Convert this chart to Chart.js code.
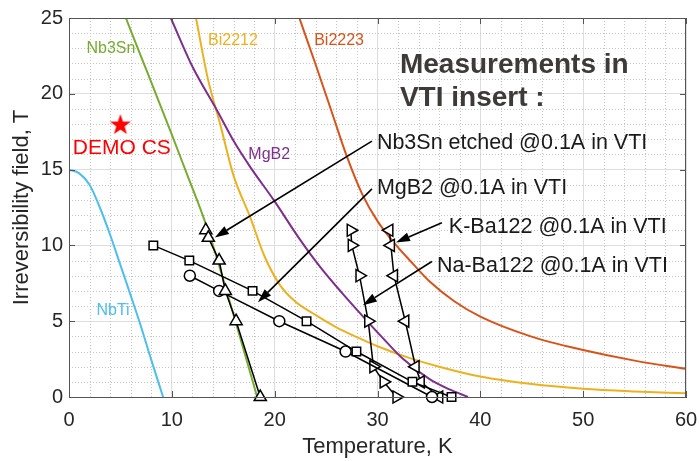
<!DOCTYPE html>
<html>
<head>
<meta charset="utf-8">
<script src="https://cdn.jsdelivr.net/npm/chart.js@4.4.1/dist/chart.umd.min.js"></script>
<style>
    body { margin: 0; background: #fff; }
    #wrap { width: 700px; height: 461px; position: relative; }
</style>
</head>
<body>
<div id="wrap"><canvas id="irrChart"></canvas></div>
<script>
// Irreversibility field curves (temperature K, field T)
const nbtiT = [0, 1, 2, 3, 4, 5, 6, 7, 8, 9.15];
const nbtiB = [15, 14.75, 14.0, 12.5, 10.7, 8.7, 6.7, 4.65, 2.45, 0];

const nb3snT = [5.53, 7.0, 8.5, 10.0, 11.5, 13.0, 14.0, 15.0, 16.1, 17.2, 18.3];
const nb3snB = [25, 22.47, 19.9, 17.3, 14.65, 12.0, 10.0, 7.75, 5.2, 2.6, 0];

const mgb2T = [9.9, 12.0, 14.4, 16.0, 17.6, 19.9, 22.5, 24.4, 26.5, 28.6, 30.5, 32.5, 35.1, 37.0, 38.8];
const mgb2B = [25, 21.8, 18.9, 16.9, 15.2, 13.0, 10.35, 8.6, 6.9, 5.3, 3.9, 2.5, 1.16, 0.5, 0];

const bi2212T = [12.35, 13.5, 14.7, 16.0, 17.6, 19.0, 20.5, 22.0, 24.0, 26.0, 28.0, 30.0, 33.0, 36.0, 40, 45, 50, 55, 60];
const bi2212B = [25, 21.0, 18.0, 14.6, 11.9, 9.3, 7.4, 6.3, 5.4, 4.6, 3.95, 3.35, 2.6, 2.0, 1.35, 0.85, 0.55, 0.37, 0.24];

const bi2223T = [22.4, 24.0, 25.6, 27.0, 28.5, 30.0, 31.7, 33.5, 35.1, 37.5, 40, 44.9, 50, 55, 60];
const bi2223B = [25, 21.9, 18.7, 15.9, 13.4, 11.6, 10.1, 8.75, 7.6, 6.3, 5.3, 4.0, 3.1, 2.4, 1.86];

// VTI measurements
const etchT = [13.3, 13.55, 14.6, 15.2, 16.25, 18.6];
const etchB = [11, 10.5, 9, 7, 5, 0];

const mgSqT = [8.2, 11.7, 17.85, 23.1, 27.95, 33.4, 37.2];
const mgSqB = [10, 9, 7, 5, 3, 1, 0];

const mgCiT = [11.75, 14.6, 20.45, 26.9, 35.3];
const mgCiB = [8, 7, 5, 3, 0];

const naT = [27.4, 27.5, 28.25, 29.1, 29.6, 30.6, 31.85];
const naB = [11, 10, 8, 5, 2, 1, 0];

const kT = [31.15, 31.3, 31.6, 32.7, 33.7, 34.2, 36.0];
const kB = [11, 10, 8, 5, 2, 1, 0];

const demoT = [5];
const demoB = [18];

const FONT = "'Liberation Sans', Arial, sans-serif";

function pts(xs, ys) {
    return xs.map((x, i) => ({ x: x, y: ys[i] }));
}

// filled 5 point star for DEMO CS
function makeStar(size, color) {
    const c = document.createElement("canvas");
    c.width = size;
    c.height = size;
    const g = c.getContext("2d");
    const cx = size / 2, cy = size / 2 + 1, ro = size / 2, ri = size / 5;
    g.beginPath();
    for (let i = 0; i < 10; i++) {
        const r = i % 2 === 0 ? ro : ri;
        const a = -Math.PI / 2 + i * Math.PI / 5;
        g.lineTo(cx + r * Math.cos(a), cy + r * Math.sin(a));
    }
    g.closePath();
    g.fillStyle = color;
    g.fill();
    return c;
}

function curve(data, color) {
    return {
        data: data,
        showLine: true,
        borderColor: color,
        borderWidth: 2,
        pointRadius: 0,
        cubicInterpolationMode: "monotone",
        order: 2
    };
}

function markers(data, style, radius, rotation) {
    return {
        data: data,
        showLine: true,
        borderColor: "#000",
        borderWidth: 1.5,
        pointStyle: style,
        pointRadius: radius,
        pointRotation: rotation || 0,
        pointBackgroundColor: "#fff",
        pointBorderColor: "#000",
        pointBorderWidth: 1.5,
        clip: false,
        order: 1
    };
}

// labels next to curves and the annotation block
const curveLabels = [
    { text: "Nb3Sn", x: 1.70, y: 22.68, color: "#77AC30" },
    { text: "Bi2212", x: 13.52, y: 23.23, color: "#EDB120" },
    { text: "Bi2223", x: 23.84, y: 23.23, color: "#D95319" },
    { text: "MgB2", x: 17.44, y: 15.68, color: "#7E2F8E" },
    { text: "NbTi", x: 2.67, y: 5.4, color: "#4DBEEE" }
];

const notes = [
    { text: "Nb3Sn etched @0.1A in VTI", x: 29.94, y: 16.36 },
    { text: "MgB2 @0.1A in VTI", x: 29.94, y: 13.41 },
    { text: "K-Ba122 @0.1A in VTI", x: 36.94, y: 10.85 },
    { text: "Na-Ba122 @0.1A in VTI", x: 35.78, y: 8.22 }
];

const arrows = [
    { x0: 29.46, y0: 16.88, x1: 14.18, y1: 10.52 },
    { x0: 29.46, y0: 13.73, x1: 18.37, y1: 6.25 },
    { x0: 36.26, y0: 11.50, x1: 31.79, y1: 10.19 },
    { x0: 35.29, y0: 8.94, x1: 28.58, y1: 6.06 }
];

// minor dotted grid, box, inward ticks
const decorPlugin = {
    id: "decor",
    beforeDatasetsDraw(chart) {
        const ctx = chart.ctx, a = chart.chartArea;
        const xs = chart.scales.x, ys = chart.scales.y;
        ctx.save();
        ctx.strokeStyle = "#c4c4c4";
        ctx.lineWidth = 1;
        ctx.setLineDash([1, 2]);
        for (let v = 2; v < 60; v += 2) {
            if (v % 10 === 0) continue;
            const px = Math.round(xs.getPixelForValue(v)) + 0.5;
            ctx.beginPath();
            ctx.moveTo(px, a.top);
            ctx.lineTo(px, a.bottom);
            ctx.stroke();
        }
        for (let v = 1; v < 25; v++) {
            if (v % 5 === 0) continue;
            const py = Math.round(ys.getPixelForValue(v)) + 0.5;
            ctx.beginPath();
            ctx.moveTo(a.left, py);
            ctx.lineTo(a.right, py);
            ctx.stroke();
        }
        ctx.restore();
    },
    afterDatasetsDraw(chart) {
        const ctx = chart.ctx, a = chart.chartArea;
        const xs = chart.scales.x, ys = chart.scales.y;
        ctx.save();

        // box and inward ticks
        ctx.strokeStyle = "#555";
        ctx.lineWidth = 1;
        ctx.strokeRect(a.left + 0.5, a.top + 0.5, a.right - a.left - 1, a.bottom - a.top);
        ctx.beginPath();
        xs.ticks.forEach(t => {
            const px = Math.round(xs.getPixelForValue(t.value)) + 0.5;
            ctx.moveTo(px, a.bottom); ctx.lineTo(px, a.bottom - 6);
            ctx.moveTo(px, a.top); ctx.lineTo(px, a.top + 6);
        });
        ys.ticks.forEach(t => {
            const py = Math.round(ys.getPixelForValue(t.value)) + 0.5;
            ctx.moveTo(a.left, py); ctx.lineTo(a.left + 6, py);
            ctx.moveTo(a.right, py); ctx.lineTo(a.right - 6, py);
        });
        ctx.stroke();

        // curve labels
        ctx.textBaseline = "alphabetic";
        ctx.textAlign = "left";
        ctx.font = "16px " + FONT;
        curveLabels.forEach(l => {
            ctx.fillStyle = l.color;
            ctx.fillText(l.text, xs.getPixelForValue(l.x), ys.getPixelForValue(l.y));
        });

        ctx.fillStyle = "#ff0000";
        ctx.font = "21px " + FONT;
        ctx.fillText("DEMO CS", xs.getPixelForValue(0.37), ys.getPixelForValue(16.03));

        // annotation block
        ctx.fillStyle = "#3d3a39";
        ctx.font = "bold 28px " + FONT;
        ctx.fillText("Measurements in", xs.getPixelForValue(32.18), ys.getPixelForValue(21.35));
        ctx.fillText("VTI insert :", xs.getPixelForValue(32.18), ys.getPixelForValue(19.18));

        ctx.fillStyle = "#1a1a1a";
        ctx.font = "21.5px " + FONT;
        notes.forEach(n => {
            ctx.fillText(n.text, xs.getPixelForValue(n.x), ys.getPixelForValue(n.y));
        });

        // arrows
        ctx.strokeStyle = "#000";
        ctx.fillStyle = "#000";
        ctx.lineWidth = 1.6;
        arrows.forEach(ar => {
            const x0 = xs.getPixelForValue(ar.x0), y0 = ys.getPixelForValue(ar.y0);
            const x1 = xs.getPixelForValue(ar.x1), y1 = ys.getPixelForValue(ar.y1);
            const ang = Math.atan2(y1 - y0, x1 - x0);
            const len = 14, half = 4.5;
            const bx = x1 - len * Math.cos(ang), by = y1 - len * Math.sin(ang);
            ctx.beginPath();
            ctx.moveTo(x0, y0);
            ctx.lineTo(bx, by);
            ctx.stroke();
            ctx.beginPath();
            ctx.moveTo(x1, y1);
            ctx.lineTo(bx + half * Math.sin(ang), by - half * Math.cos(ang));
            ctx.lineTo(bx - half * Math.sin(ang), by + half * Math.cos(ang));
            ctx.closePath();
            ctx.fill();
        });
        ctx.restore();
    }
};

document.addEventListener("DOMContentLoaded", function() {

    const star = makeStar(22, "#ff0000");

    new Chart(document.getElementById("irrChart"), {
        type: "scatter",
        data: {
            datasets: [
                markers(pts(etchT, etchB), "triangle", 7, 0),
                markers(pts(mgSqT, mgSqB), "rect", 6, 0),
                markers(pts(mgCiT, mgCiB), "circle", 5.5, 0),
                markers(pts(naT, naB), "triangle", 7, 90),
                markers(pts(kT, kB), "triangle", 7, -90),
                curve(pts(nbtiT, nbtiB), "#4DBEEE"),
                curve(pts(nb3snT, nb3snB), "#77AC30"),
                curve(pts(mgb2T, mgb2B), "#7E2F8E"),
                curve(pts(bi2212T, bi2212B), "#EDB120"),
                curve(pts(bi2223T, bi2223B), "#D95319"),
                {
                    data: pts(demoT, demoB),
                    pointStyle: star,
                    pointRadius: 11,
                    order: 0
                }
            ]
        },
        options: {
            responsive: true,
            maintainAspectRatio: false,
            animation: false,
            layout: { padding: { top: 16, right: 14, left: 0, bottom: 0 } },
            plugins: {
                legend: { display: false },
                tooltip: { enabled: false }
            },
            scales: {
                x: {
                    type: "linear",
                    min: 0,
                    max: 60,
                    afterFit: function(scale) {
                        scale.height = 64;
                        // tick padding would otherwise widen the right margin
                        scale.paddingLeft = 0;
                        scale.paddingRight = 0;
                    },
                    ticks: {
                        stepSize: 10,
                        padding: 11,
                        color: "#262626",
                        font: { family: FONT, size: 20 }
                    },
                    grid: { color: "#dedede", drawTicks: false },
                    border: { color: "#555" },
                    title: {
                        display: true,
                        text: "Temperature, K",
                        color: "#262626",
                        font: { family: FONT, size: 22 },
                        padding: { top: 0, bottom: 1 }
                    }
                },
                y: {
                    type: "linear",
                    min: 0,
                    max: 25,
                    afterFit: function(scale) { scale.width = 69; },
                    ticks: {
                        stepSize: 5,
                        padding: 6,
                        color: "#262626",
                        font: { family: FONT, size: 20 }
                    },
                    grid: { color: "#dedede", drawTicks: false },
                    border: { color: "#555" },
                    title: {
                        display: true,
                        text: "Irreversibility field, T",
                        color: "#262626",
                        font: { family: FONT, size: 22 },
                        padding: { top: 9, bottom: 0 }
                    }
                }
            }
        },
        plugins: [decorPlugin]
    });
});
</script>
</body>
</html>
